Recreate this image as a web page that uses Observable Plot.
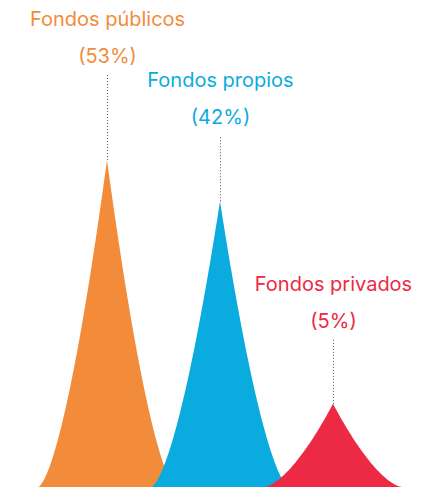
<!DOCTYPE html>
<html>
<head>
<meta charset="utf-8">
<script src="https://cdn.jsdelivr.net/npm/d3@7"></script>
<script src="https://cdn.jsdelivr.net/npm/@observablehq/plot@0.6"></script>
<style>
  html, body { margin: 0; padding: 0; background: #fff; }
  #chart svg { display: block; overflow: visible; }
</style>
</head>
<body>
<div id="chart"></div>
<script>
// Data
const categories = ["Fondos públicos", "Fondos propios", "Fondos privados"];
const shares = [53, 42, 5];
const shareLabels = ["(53%)", "(42%)", "(5%)"];

// Styles / layout
const colors = ["#F38C3A", "#0AACE0", "#EC2A43"];
const leaderLength = [85, 65, 64]; // px above each peak where the dotted leader starts
const exponent = 0.58;
const halfWidth = 0.61;  // base half-width in x units
const sharpness = 1.55;  // concavity of the spike sides
const fontFamily = "Inter, 'Noto Sans', sans-serif";

const rows = categories.map((name, i) => ({
  name, i, value: shares[i], label: shareLabels[i], color: colors[i], lift: leaderLength[i]
}));

// Build spike outline in data space (profile shaped so pixel height ∝ (1-|t|)^sharpness)
function spike(r) {
  const N = 120, pts = [];
  for (let k = 0; k <= N; k++) {
    const t = -1 + 2 * k / N;
    const f = Math.pow(Math.pow(1 - Math.abs(t), sharpness), 1 / exponent);
    pts.push({x: r.i + t * halfWidth, y: r.value * f});
  }
  return pts;
}

const H = 487, mTop = 160, mBottom = 0;
const yScale = Plot.scale({y: {type: "pow", exponent, domain: [0, d3.max(shares)], range: [H - mBottom, mTop]}});
const leaders = rows.map(r => ({...r, y2: yScale.invert(yScale.apply(r.value) - r.lift)}));

const marks = [];
rows.forEach(r => {
  marks.push(Plot.areaY(spike(r), {x: "x", y: "y", fill: r.color, curve: "linear"}));
});
leaders.forEach(r => {
  marks.push(Plot.ruleX([r], {x: "i", y1: "value", y2: "y2", stroke: "#555", strokeWidth: 1, strokeDasharray: "1,2"}));
  marks.push(Plot.text([r], {x: "i", y: "value", text: "label", fill: r.color, dy: -(r.lift + 12.5), lineAnchor: "bottom", fontSize: 20, fontFamily}));
  marks.push(Plot.text([r], {x: "i", y: "value", text: "name", fill: r.color, dy: -(r.lift + 49.5), lineAnchor: "bottom", fontSize: 20, fontFamily}));
});

const chart = Plot.plot({
  width: 442,
  height: H,
  marginLeft: 107,
  marginRight: 109,
  marginTop: mTop,
  marginBottom: mBottom,
  x: {domain: [0, 2], axis: null},
  y: {type: "pow", exponent, domain: [0, d3.max(shares)], axis: null},
  style: {background: "#fff", fontFamily},
  marks
});
document.getElementById("chart").appendChild(chart);
</script>
</body>
</html>
